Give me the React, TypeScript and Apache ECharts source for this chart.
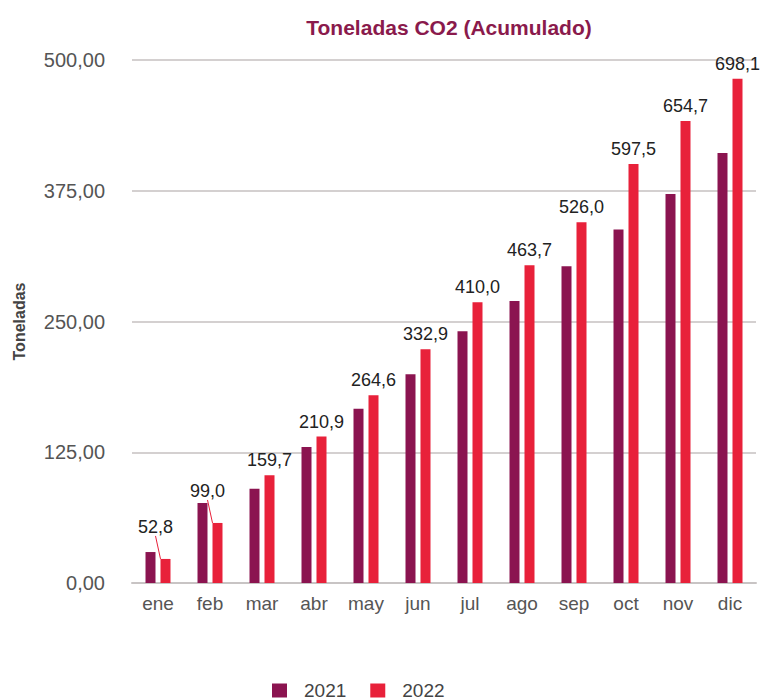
import React, { useEffect, useRef } from "react";
import * as echarts from "echarts";

const categories = ["ene", "feb", "mar", "abr", "may", "jun", "jul", "ago", "sep", "oct", "nov", "dic"];
const values2021 = [29.6, 76.5, 90, 130, 166.7, 199.5, 240.6, 269.6, 302.8, 338, 372, 411];
const values2022 = [23, 57.4, 103, 140, 179.4, 223.4, 268.4, 303.7, 344.8, 400.6, 441.7, 482];
const labels2022 = ["52,8", "99,0", "159,7", "210,9", "264,6", "332,9", "410,0", "463,7", "526,0", "597,5", "654,7", "698,1"];
const yTicks = [0, 125, 250, 375, 500];

const FONT = "'Liberation Sans', Arial, Helvetica, sans-serif";

export default function App() {
  const ref = useRef<HTMLDivElement>(null);
  useEffect(() => {
    document.body.style.margin = "0";
    if (!ref.current) return;
    const chart = echarts.init(ref.current, undefined, { renderer: "svg" });
    chart.setOption({
      animation: false,
      backgroundColor: "#ffffff",
      textStyle: { fontFamily: FONT },
      title: {
        text: "Toneladas CO2 (Acumulado)",
        left: 444,
        textAlign: "center",
        top: 12,
        textStyle: { color: "#8a1a4c", fontSize: 21, fontWeight: "bold", fontFamily: FONT },
      },
      legend: {
        data: ["2021", "2022"],
        left: 267,
        top: 676,
        icon: "rect",
        itemWidth: 15,
        itemHeight: 14,
        itemGap: 24,
        textStyle: { color: "#444", fontSize: 19, fontFamily: FONT, padding: [0, 0, 0, 12] },
      },
      grid: { left: 132, right: 5, top: 60, bottom: 117, containLabel: false },
      xAxis: {
        type: "category",
        data: categories,
        axisTick: { show: false },
        axisLine: { lineStyle: { color: "#c8c4c4", width: 2 } },
        axisLabel: { color: "#555", fontSize: 19, margin: 11, fontFamily: FONT },
      },
      yAxis: {
        type: "value",
        min: yTicks[0],
        max: yTicks[yTicks.length - 1],
        interval: 125,
        name: "Toneladas",
        nameLocation: "middle",
        nameGap: 105,
        nameTextStyle: { color: "#444", fontSize: 16, fontWeight: "bold", fontFamily: FONT },
        axisLine: { show: false },
        axisTick: { show: false },
        axisLabel: {
          color: "#555",
          fontSize: 20,
          margin: 27,
          fontFamily: FONT,
          formatter: (v: number) => v.toFixed(2).replace(".", ","),
        },
        splitLine: { lineStyle: { color: "#d4d0d0", width: 2 } },
      },
      series: [
        {
          name: "2021",
          type: "bar",
          data: values2021,
          barWidth: 10,
          barGap: "50%",
          itemStyle: { color: "#8b1450" },
        },
        {
          name: "2022",
          type: "bar",
          data: values2022.map((v, i) => ({
            value: v,
            labelLine: { show: i < 2 },
          })),
          barWidth: 10,
          itemStyle: { color: "#e8213a" },
          label: {
            show: true,
            position: "top",
            distance: 6,
            color: "#222",
            fontSize: 18,
            fontFamily: FONT,
            formatter: (p: any) => labels2022[p.dataIndex],
          },
          labelLine: { lineStyle: { color: "#e8213a", width: 1 } },
          labelLayout: (p: any) => (p.dataIndex < 2 ? { dx: -10, dy: -17 } : {}),
        },
      ],
    });
    return () => chart.dispose();
  }, []);
  return <div ref={ref} style={{ width: 761, height: 700 }} />;
}
